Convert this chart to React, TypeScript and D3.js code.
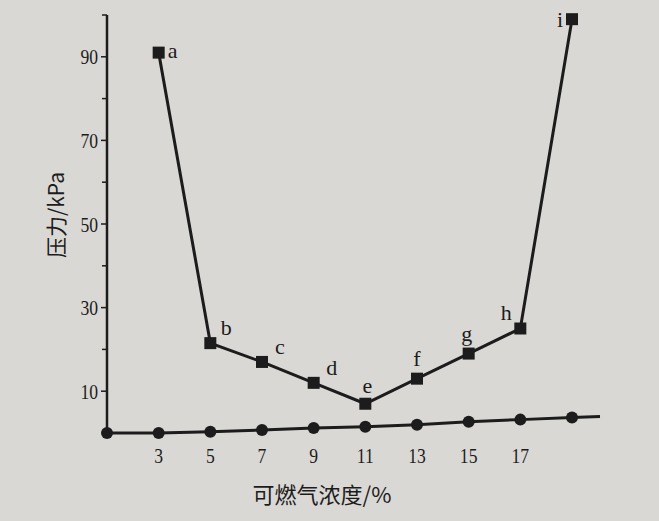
import React, { useEffect, useRef } from 'react'
import * as d3 from 'd3'

// 可燃气浓度 (%) and pressure (kPa)
const concentration = [3, 5, 7, 9, 11, 13, 15, 17, 19]
const pressure = [91, 21.5, 17, 12, 7, 13, 19, 25, 99]
const pointNames = ['a', 'b', 'c', 'd', 'e', 'f', 'g', 'h', 'i']

const baseConcentration = [1, 3, 5, 7, 9, 11, 13, 15, 17, 19]
const basePressure = [0, 0, 0.3, 0.7, 1.2, 1.5, 2, 2.7, 3.2, 3.7]

const xTicks = [3, 5, 7, 9, 11, 13, 15, 17]
const yMajor = [10, 30, 50, 70, 90]
const yMinor = [20, 40, 60, 80, 100]

// label offsets next to each square
const labelDx = [14, 16, 18, 18, 2, 0, -2, -14, -12]
const labelDy = [-2, -16, -16, -16, -18, -20, -20, -16, 0]

function App() {
    const ref = useRef<SVGSVGElement>(null)
    const width = 659
    const height = 521

    useEffect(() => {
        const svg = d3.select(ref.current)
        svg.selectAll('*').remove()

        const x = d3.scaleLinear().domain([1, 19]).range([107, 572])
        const y = d3.scaleLinear().domain([0, 100]).range([433, 15])
        const ink = '#1c1c1c'

        svg.append('rect').attr('width', width).attr('height', height).attr('fill', '#dad8d4')

        const g = svg.append('g')

        // y axis
        g.append('line')
            .attr('x1', x(1)).attr('x2', x(1))
            .attr('y1', y(0)).attr('y2', y(100))
            .attr('stroke', ink).attr('stroke-width', 2.5)

        g.selectAll('.ymaj').data(yMajor).join('line')
            .attr('x1', x(1) - 6).attr('x2', x(1))
            .attr('y1', d => y(d)).attr('y2', d => y(d))
            .attr('stroke', ink).attr('stroke-width', 1.5)
        g.selectAll('.ymin').data(yMinor).join('line')
            .attr('x1', x(1) - 5).attr('x2', x(1))
            .attr('y1', d => y(d)).attr('y2', d => y(d))
            .attr('stroke', ink).attr('stroke-width', 1.5)
        const tx = x(1) - 9
        g.selectAll('.ylab').data(yMajor).join('text')
            .attr('x', tx).attr('y', d => y(d))
            .attr('dy', '0.35em')
            .attr('text-anchor', 'end')
            .attr('font-family', 'Liberation Serif')
            .attr('font-size', 22)
            .attr('fill', ink)
            .attr('transform', d => `translate(${tx},${y(d)}) scale(0.8,1) translate(${-tx},${-y(d)})`)
            .text(d => d)

        // x tick labels
        g.selectAll('.xlab').data(xTicks).join('text')
            .attr('x', d => x(d)).attr('y', 463)
            .attr('text-anchor', 'middle')
            .attr('font-family', 'Liberation Serif')
            .attr('font-size', 22)
            .attr('fill', ink)
            .attr('transform', d => `translate(${x(d)},463) scale(0.8,1) translate(${-x(d)},-463)`)
            .text(d => d)

        // baseline series (circles)
        const baseLine = d3.line<number>()
            .x((d, i) => x(baseConcentration[i]))
            .y(d => y(d))
        g.append('path')
            .attr('d', baseLine(basePressure))
            .attr('fill', 'none').attr('stroke', ink).attr('stroke-width', 3)
        g.append('line')
            .attr('x1', x(19)).attr('x2', x(19) + 28)
            .attr('y1', y(basePressure[9])).attr('y2', y(basePressure[9]) - 1)
            .attr('stroke', ink).attr('stroke-width', 3)
        g.selectAll('.dot').data(basePressure).join('circle')
            .attr('cx', (d, i) => x(baseConcentration[i]))
            .attr('cy', d => y(d))
            .attr('r', 6)
            .attr('fill', ink)

        // pressure series (squares)
        const line = d3.line<number>()
            .x((d, i) => x(concentration[i]))
            .y(d => y(d))
        g.append('path')
            .attr('d', line(pressure))
            .attr('fill', 'none').attr('stroke', ink).attr('stroke-width', 3)
        g.selectAll('.sq').data(pressure).join('rect')
            .attr('x', (d, i) => x(concentration[i]) - 6)
            .attr('y', d => y(d) - 6)
            .attr('width', 12).attr('height', 12)
            .attr('fill', ink)
        g.selectAll('.name').data(pressure).join('text')
            .attr('x', (d, i) => x(concentration[i]) + labelDx[i])
            .attr('y', (d, i) => y(d) + labelDy[i])
            .attr('dy', '0.35em')
            .attr('text-anchor', 'middle')
            .attr('font-family', 'Liberation Serif')
            .attr('font-size', 22)
            .attr('fill', ink)
            .text((d, i) => pointNames[i])

        // axis titles
        g.append('text')
            .attr('transform', `translate(64,215) rotate(-90)`)
            .attr('text-anchor', 'middle')
            .attr('font-family', 'Noto Sans CJK SC')
            .attr('font-size', 21)
            .attr('fill', ink)
            .text('压力/kPa')
        g.append('text')
            .attr('x', 322).attr('y', 503)
            .attr('text-anchor', 'middle')
            .attr('font-family', 'Noto Sans CJK SC')
            .attr('font-size', 22)
            .attr('fill', ink)
            .text('可燃气浓度/%')
    }, [])

    return <svg ref={ref} width={width} height={height} style={{ position: 'absolute', left: 0, top: 0 }} />
}

export default App
